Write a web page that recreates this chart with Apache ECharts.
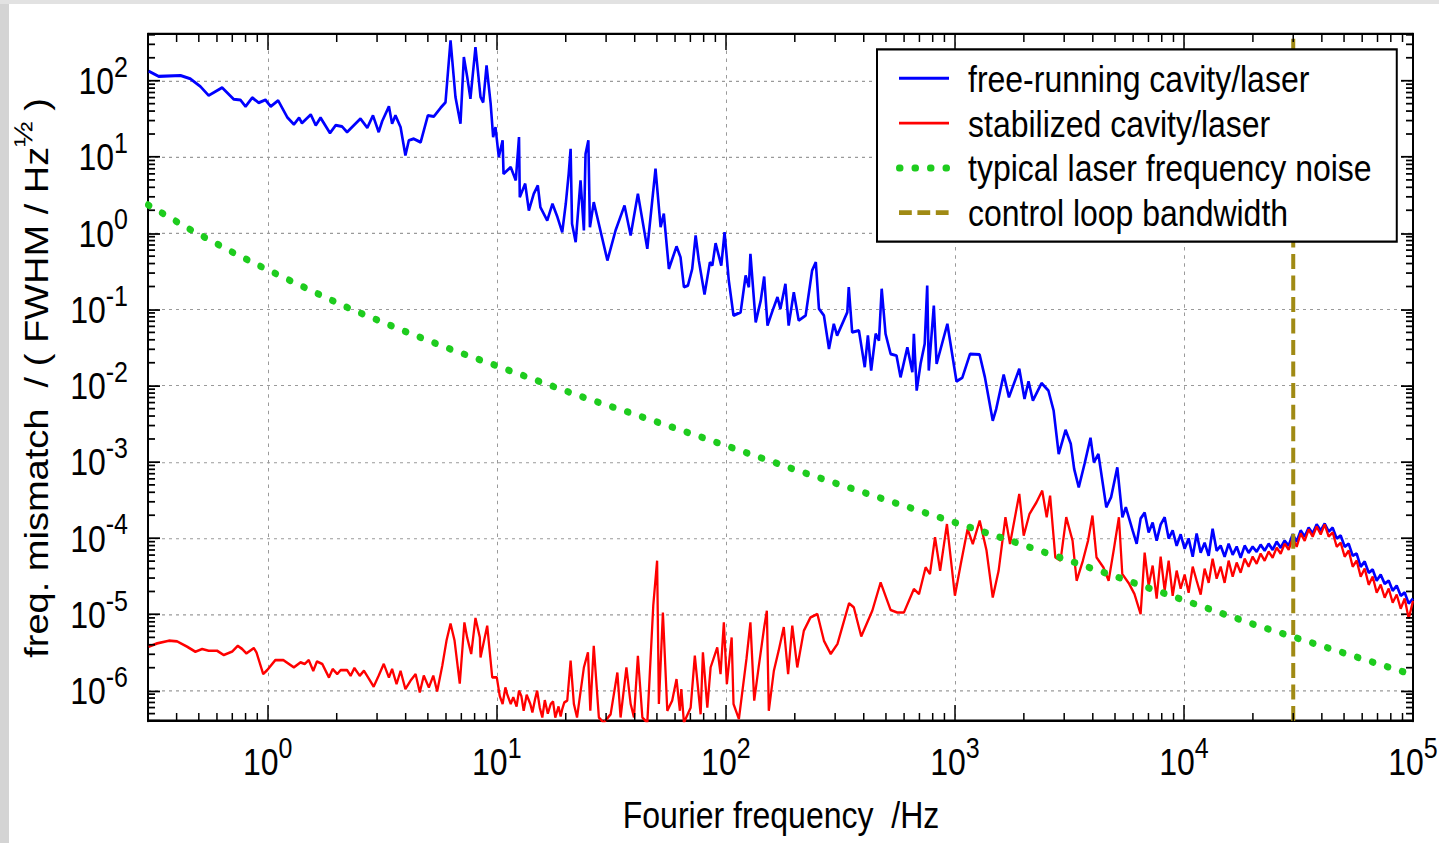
<!DOCTYPE html>
<html>
<head>
<meta charset="utf-8">
<script src="https://cdn.jsdelivr.net/npm/echarts@6/dist/echarts.min.js"></script>
<style>
  html, body { margin: 0; padding: 0; background: #fff; }
  body { width: 1439px; height: 843px; position: relative; }
  #chart { position: absolute; left: 0; top: 0; width: 1439px; transform-origin: 0 0; }
</style>
</head>
<body>
<div id="chart"></div>
<script>
// Spectral density of the cavity/laser frequency mismatch, [Fourier frequency in Hz, FWHM/sqrt(Hz)]
const freeRunning = [
  [0.302,134],[0.334,114],[0.416,117],[0.459,106],[0.508,84],[0.552,64],[0.632,81],[0.711,57],[0.76,56],[0.8,46],
  [0.855,60],[0.913,51.5],[0.977,56],[1.03,46],[1.11,55],[1.22,32.7],[1.3,26.7],[1.37,32.7],[1.41,27.8],[1.54,36],
  [1.62,26],[1.7,32.7],[1.87,20.6],[1.98,26],[2.11,25.1],[2.22,21.2],[2.54,31.8],[2.72,24.2],[2.88,35],[3.05,21.2],
  [3.16,29.5],[3.38,46],[3.49,27.3],[3.61,35],[3.8,24.6],[3.99,10.5],[4.13,16.5],[4.34,17.3],[4.65,15.6],[5.0,35],
  [5.31,34],[5.68,44],[5.97,52],[6.28,338],[6.6,61],[6.94,27.3],[7.18,204],[7.43,111],[7.67,58],[8.07,276],
  [8.49,61],[8.72,52],[9.02,159],[9.4,50],[9.64,18.2],[9.87,24.6],[10.2,9.95],[10.6,16.5],[10.7,6.0],[11.5,7.35],
  [12.1,4.92],[12.5,18.2],[12.6,2.97],[13.3,4.46],[13.8,1.99],[14.5,3.29],[15.1,4.23],[15.5,2.19],[16.6,1.47],[17.5,2.43],
  [18.4,1.62],[19.3,1.03],[20.0,2.43],[20.6,6.03],[21.0,12.8],[21.3,1.33],[22.1,0.762],[23.2,4.92],[24.0,1.09],[24.4,11.0],
  [25.1,16.5],[25.5,1.2],[26.5,2.55],[30.4,0.439],[33.0,1.09],[36.1,2.31],[38.4,0.933],[41.3,3.29],[45.4,0.625],[49.3,7.0],
  [51.9,1.2],[53.6,1.8],[56.4,0.341],[60.9,0.67],[63.4,0.484],[65.6,0.196],[68.3,0.206],[71.3,0.341],[73.8,0.933],[76.2,0.439],
  [80.7,0.157],[85.2,0.417],[87.3,0.377],[90.2,0.739],[95.5,0.377],[98.7,1.03],[103,0.239],[108,0.0832],[116,0.0919],[122,0.279],
  [126,0.196],[128,0.537],[135,0.0679],[142,0.131],[147,0.27],[152,0.0615],[160,0.0968],[168,0.145],[173,0.102],[182,0.217],
  [188,0.0615],[198,0.168],[208,0.0716],[223,0.0832],[238,0.324],[247,0.417],[255,0.102],[268,0.0832],[282,0.0304],[296,0.0647],
  [306,0.0455],[327,0.0716],[339,0.0919],[344,0.196],[356,0.0502],[381,0.0528],[404,0.0175],[417,0.0455],[431,0.0158],[451,0.0479],
  [466,0.0391],[479,0.187],[498,0.0479],[524,0.0261],[556,0.0248],[579,0.0129],[620,0.0319],[652,0.015],[662,0.0479],[681,0.00863],
  [708,0.0193],[738,0.0354],[757,0.206],[769,0.0158],[809,0.112],[832,0.0193],[927,0.0647],[1016,0.0114],[1077,0.0127],[1164,0.0261],
  [1282,0.0256],[1352,0.0129],[1463,0.00348],[1515,0.00496],[1633,0.014],[1722,0.00705],[1910,0.0166],[2013,0.00671],[2096,0.0114],[2191,0.00638],
  [2389,0.0108],[2560,0.00863],[2698,0.00471],[2839,0.00127],[3042,0.00263],[3206,0.00172],[3317,8.09e-4],[3473,4.64e-4],[3681,9.42e-4],[3908,0.00207],
  [4043,9.88e-4],[4231,0.00127],[4581,2.54e-4],[4806,3.43e-4],[5117,8.49e-4],[5387,1.88e-4],[5576,2.54e-4],[5970,1.26e-4],[6216,8.45e-5],[6470,1.81e-4],
  [6736,2.16e-4],[7013,1.19e-4],[7301,1.6e-4],[7600,9.27e-5],[7912,1.51e-4],[8237,1.87e-4],[8575,9.9e-5],[8927,1.26e-4],[9293,7.97e-5],[9674,1.12e-4],
  [10070,7.28e-5],[10480,9.9e-5],[10920,5.72e-5],[11360,1.15e-4],[11830,6.45e-5],[12310,8.7e-5],[12820,5.89e-5],[13340,1.33e-4],[13890,6.86e-5],[14460,7.97e-5],
  [15050,5.72e-5],[15670,8.45e-5],[16320,6.07e-5],[16990,7.73e-5],[17680,5.55e-5],[18410,7.97e-5],[19160,6.45e-5],[19950,7.73e-5],[20770,6.65e-5],[21620,8.2e-5],
  [22510,6.86e-5],[23430,8.45e-5],[24390,7.06e-5],[25390,9.0e-5],[26440,7.5e-5],[27520,9.27e-5],[28650,7.97e-5],[29830,1.12e-4],[31050,9.0e-5],[32330,1.26e-4],
  [33660,1.05e-4],[35030,1.37e-4],[36470,1.15e-4],[37970,1.51e-4],[39530,1.26e-4],[41150,1.55e-4],[42840,1.22e-4],[44600,1.37e-4],[46430,9.9e-5],[48340,1.08e-4],
  [50320,7.73e-5],[52390,8.45e-5],[54540,5.89e-5],[56770,6.26e-5],[59100,4.23e-5],[61530,4.92e-5],[64060,3.53e-5],[66680,3.87e-5],[69420,2.77e-5],[72270,3.32e-5],
  [75230,2.52e-5],[78320,2.77e-5],[81540,2.05e-5],[84880,2.38e-5],[88370,1.76e-5],[91990,1.93e-5],[95770,1.39e-5],[100000,1.61e-5]
];

const stabilized = [
  [0.302,3.77e-6],[0.329,4.17e-6],[0.37,4.52e-6],[0.402,4.43e-6],[0.445,3.77e-6],[0.483,3.24e-6],[0.517,3.52e-6],[0.552,3.34e-6],[0.601,3.34e-6],[0.643,2.93e-6],
  [0.7,3.27e-6],[0.74,3.88e-6],[0.773,3.52e-6],[0.807,3.08e-6],[0.869,3.62e-6],[0.893,3.17e-6],[0.955,1.65e-6],[0.994,1.86e-6],[1.08,2.52e-6],[1.17,2.52e-6],
  [1.3,2.02e-6],[1.39,2.35e-6],[1.45,2.24e-6],[1.51,2.52e-6],[1.58,1.82e-6],[1.64,2.42e-6],[1.73,2.24e-6],[1.85,1.49e-6],[1.92,1.92e-6],[2.01,1.65e-6],
  [2.08,1.86e-6],[2.22,1.86e-6],[2.3,1.57e-6],[2.39,1.98e-6],[2.52,1.57e-6],[2.63,1.82e-6],[2.73,1.52e-6],[2.9,1.13e-6],[3.05,1.57e-6],[3.21,2.24e-6],
  [3.38,1.49e-6],[3.49,1.92e-6],[3.65,1.22e-6],[3.8,1.82e-6],[3.99,1.05e-6],[4.2,1.35e-6],[4.42,1.65e-6],[4.61,9.5e-7],[4.8,1.57e-6],[5.05,1.1e-6],
  [5.28,1.57e-6],[5.49,9.8e-7],[5.78,2.12e-6],[6.03,4.52e-6],[6.28,7.6e-6],[6.54,4.52e-6],[6.89,1.24e-6],[7.22,7.85e-6],[7.42,4.99e-6],[7.73,3.03e-6],
  [8.07,8.97e-6],[8.43,4.99e-6],[8.49,2.73e-6],[9.08,7.1e-6],[9.55,1.49e-6],[10.0,1.49e-6],[10.3,8.5e-7],[10.6,6.7e-7],[10.9,1.1e-6],[11.1,9.0e-7],
  [11.5,6.7e-7],[11.8,8.2e-7],[12.2,6.2e-7],[12.5,1.0e-6],[12.8,8.5e-7],[13.1,5.45e-7],[13.5,8.8e-7],[14.0,6.7e-7],[14.3,5.2e-7],[14.7,7.8e-7],
  [15.0,1.0e-6],[15.4,6.0e-7],[15.8,4.45e-7],[16.2,7.5e-7],[16.7,5.0e-7],[17.2,6.7e-7],[17.6,7.2e-7],[18.0,4.45e-7],[18.6,6.2e-7],[19.0,4.6e-7],
  [19.3,5.7e-7],[19.7,7.0e-7],[20.3,7.4e-7],[21.0,2.47e-6],[21.7,6.7e-7],
  [22.4,4.45e-7],[24.0,2.02e-6],[25.0,3.18e-6],[25.6,5.45e-7],[26.5,3.88e-6],[27.9,4.45e-7],[29.3,3.8e-7],[31.4,4.9e-7],[33.6,1.73e-6],[34.7,4.45e-7],
  [36.8,2.02e-6],[38.4,6.7e-7],[39.7,4.45e-7],[41.3,2.87e-6],[43.2,4.45e-7],[45.4,3.8e-7],[48.2,1.3e-5],[50.1,5.07e-5],[51.0,6.7e-7],[53.1,1.06e-5],
  [55.5,5.45e-7],[58.3,7.4e-7],[60.9,1.42e-6],[63.0,5.45e-7],[63.9,1.05e-6],[65.6,3.8e-7],[70.2,6.0e-7],[73.2,2.87e-6],[77.6,4.9e-7],[79.4,3.18e-6],
  [83.0,6.0e-7],[85.8,2.02e-6],[91.7,3.69e-6],[94.8,1.65e-6],[98.0,7.85e-6],[101,1.22e-6],[106,4.99e-6],[108,6.7e-7],[114,4.24e-7],[123,2.6e-6],
  [128,7.85e-6],[133,7.4e-7],[139,2.02e-6],[147,6.8e-6],[151,1.12e-5],[154,5.45e-7],[162,1.82e-6],[170,3.34e-6],[179,6.8e-6],[187,1.65e-6],
  [195,7.1e-6],[205,2.02e-6],[219,6.1e-6],[234,9.1e-6],[251,1.01e-5],[268,4.52e-6],[287,3.03e-6],[307,4.09e-6],[345,1.4e-5],[362,1.24e-5],
  [390,5.15e-6],[436,1.12e-5],[474,2.63e-5],[524,1.14e-5],[560,1.06e-5],[599,1.06e-5],[662,2.15e-5],[697,1.85e-5],[745,4.14e-5],[778,3.39e-5],
  [819,1.03e-4],[862,3.75e-5],[923,1.53e-4],[1000,1.76e-5],[1061,4.6e-5],[1136,1.32e-4],[1197,8.4e-5],[1283,1.7e-4],[1374,6.9e-5],[1463,1.67e-5],
  [1552,3.75e-5],[1662,1.88e-4],[1740,8.4e-5],[1910,3.8e-4],[1997,1.08e-4],[2117,2.08e-4],[2270,2.95e-4],[2406,4.2e-4],[2516,1.88e-4],[2604,3.61e-4],
  [2744,5.6e-5],[2891,5.07e-5],[3063,1.88e-4],[3263,9.3e-5],[3400,2.77e-5],[3620,5.07e-5],[3814,9.3e-5],[3986,1.98e-4],[4152,5.6e-5],[4449,4.14e-5],
  [4690,2.77e-5],[4932,6.9e-5],[5200,1.88e-4],[5380,3.39e-5],[5768,2.51e-5],[6080,1.85e-5],[6468,1.01e-5],[6736,6.45e-5],[7013,2.38e-5],[7301,4.36e-5],
  [7600,1.61e-5],[7912,5.72e-5],[8237,2.05e-5],[8575,5.07e-5],[8927,1.76e-5],[9293,3.75e-5],[9674,2.18e-5],[10070,3.32e-5],[10480,1.93e-5],[10920,4.23e-5],
  [11360,2.77e-5],[11830,1.82e-5],[12310,3.98e-5],[12820,2.6e-5],[13340,5.38e-5],[13890,2.95e-5],[14460,4.23e-5],[15050,2.6e-5],[15670,5.07e-5],[16320,3.13e-5],
  [16990,4.77e-5],[17680,3.53e-5],[18410,5.38e-5],[19160,4.23e-5],[19950,5.72e-5],[20770,4.63e-5],[21620,6.26e-5],[22510,5.07e-5],[23430,6.65e-5],[24390,5.55e-5],
  [25390,7.5e-5],[26440,6.26e-5],[27520,8.45e-5],[28650,7.06e-5],[29830,9.9e-5],[31050,7.73e-5],[32330,1.15e-4],[33660,9.27e-5],[35030,1.3e-4],[36470,1.05e-4],
  [37970,1.42e-4],[39530,1.12e-4],[41150,1.51e-4],[42840,1.05e-4],[44600,1.19e-4],[46430,7.73e-5],[48340,8.7e-5],[50320,5.72e-5],[52390,6.86e-5],[54540,4.23e-5],
  [56770,5.07e-5],[59100,3.13e-5],[61530,3.98e-5],[64060,2.45e-5],[66680,3.13e-5],[69420,1.93e-5],[72270,2.45e-5],[75230,1.66e-5],[78320,2.18e-5],[81540,1.43e-5],
  [84880,1.82e-5],[88370,1.19e-5],[91990,1.61e-5],[95770,8.8e-6],[100000,1.51e-5]
];

const typicalNoise = [
  [0.3,2.36],[0.458,1.12],[0.714,0.547],[0.96,0.351],[1.75,0.148],[2.33,0.0998],[4.19,0.0483],[6.52,0.0289],[10.2,0.0178],[15.8,0.011],
  [24.6,0.00684],[38.3,0.0044],[100,0.00164],[211,7.5e-4],[611,2.61e-4],[1750,9.27e-5],[4930,3.21e-5],[21000,7.1e-6],[92900,1.73e-6],[100000,1.6e-6]
];

const loopBandwidthHz = 3e4;

const seriesNames = [
  'free-running cavity/laser',
  'stabilized cavity/laser',
  'typical laser frequency noise',
  'control loop bandwidth'
];

const freqRange = [0.3, 1e5];
const ampRange = [4e-7, 410];
const xTickExponents = [0, 1, 2, 3, 4, 5];
const yTickExponents = [-6, -5, -4, -3, -2, -1, 0, 1, 2];

// The figure is drawn with tall, slightly condensed lettering: the chart is laid out
// in a shorter box and stretched vertically by SY. py() converts page rows to chart units.
const SY = 1.17;
const PAGE_W = 1439, PAGE_H = 843;
const py = v => v / SY;

const el = document.getElementById('chart');
el.style.height = py(PAGE_H) + 'px';
el.style.transform = 'scaleY(' + SY + ')';

const font = "'Liberation Sans', Arial, Helvetica, sans-serif";

function powerLabel(exponents) {
  return function (value) {
    const e = Math.round(Math.log10(value));
    if (Math.abs(value / Math.pow(10, e) - 1) > 1e-6 || exponents.indexOf(e) < 0) return '';
    return '{b|10}{s|' + e + '}';
  };
}

// mantissa "10" centred in a 48-unit line, exponent raised to the top of it
const tickRich = {
  b: { fontFamily: font, fontSize: 32, height: 48, lineHeight: 48, verticalAlign: 'bottom', color: '#000' },
  s: { fontFamily: font, fontSize: 25, height: 24, lineHeight: 24, verticalAlign: 'top', color: '#000' }
};

// 2..9 x 10^n positions between the decades
function minorTickValues(lo, hi) {
  const out = [];
  for (let d = Math.floor(Math.log10(lo)); d <= Math.ceil(Math.log10(hi)); d++) {
    for (let m = 2; m <= 9; m++) {
      const v = m * Math.pow(10, d);
      if (v > lo && v < hi) out.push(v);
    }
  }
  return out;
}

const tickStroke = { stroke: '#000', lineWidth: 1.5 };
const xMinorLen = py(8), yMinorLen = 7;

const minorX = {
  type: 'custom', silent: true, clip: false, z: 5,
  data: minorTickValues(freqRange[0], freqRange[1]).map(v => [v, ampRange[0]]),
  renderItem: function (params, api) {
    const v = api.value(0);
    const pb = api.coord([v, ampRange[0]]);
    const pt = api.coord([v, ampRange[1]]);
    return { type: 'group', children: [
      { type: 'line', shape: { x1: pb[0], y1: pb[1], x2: pb[0], y2: pb[1] - xMinorLen }, style: tickStroke },
      { type: 'line', shape: { x1: pt[0], y1: pt[1], x2: pt[0], y2: pt[1] + xMinorLen }, style: tickStroke }
    ] };
  }
};

const minorY = {
  type: 'custom', silent: true, clip: false, z: 5,
  data: minorTickValues(ampRange[0], ampRange[1]).map(v => [freqRange[0], v]),
  renderItem: function (params, api) {
    const v = api.value(1);
    const pl = api.coord([freqRange[0], v]);
    const pr = api.coord([freqRange[1], v]);
    return { type: 'group', children: [
      { type: 'line', shape: { x1: pl[0], y1: pl[1], x2: pl[0] + yMinorLen, y2: pl[1] }, style: tickStroke },
      { type: 'line', shape: { x1: pr[0], y1: pr[1], x2: pr[0] - yMinorLen, y2: pr[1] }, style: tickStroke }
    ] };
  }
};

const boxLine = { show: true, onZero: false, lineStyle: { color: '#000', width: 2 } };
const gridDash = { show: true, lineStyle: { color: '#9a9a9a', width: 1, type: [3, 4] } };
const xMajorTick = { show: true, inside: true, length: py(16), lineStyle: { color: '#000', width: 1.5 } };
const yMajorTick = { show: true, inside: true, length: 12, lineStyle: { color: '#000', width: 1.5 } };

const chart = echarts.init(el, null, { renderer: 'svg', width: PAGE_W, height: py(PAGE_H) });

chart.setOption({
  animation: false,
  backgroundColor: '#fff',
  grid: { left: 148, right: PAGE_W - 1413, top: py(34), bottom: py(PAGE_H - 721), outerBoundsMode: 'none', containLabel: false },
  xAxis: [
    {
      type: 'log', logBase: 10, min: freqRange[0], max: freqRange[1], splitNumber: 6, position: 'bottom',
      axisLine: boxLine, axisTick: xMajorTick, splitLine: gridDash,
      axisLabel: { show: true, margin: 10.5, formatter: powerLabel(xTickExponents), rich: tickRich, showMaxLabel: true, hideOverlap: false }
    },
    {
      type: 'log', logBase: 10, min: freqRange[0], max: freqRange[1], splitNumber: 6, position: 'top',
      axisLine: boxLine, axisTick: xMajorTick, splitLine: { show: false }, axisLabel: { show: false }
    }
  ],
  yAxis: [
    {
      type: 'log', logBase: 10, min: ampRange[0], max: ampRange[1], splitNumber: 10, position: 'left',
      axisLine: boxLine, axisTick: yMajorTick, splitLine: gridDash,
      axisLabel: { show: true, margin: 20, formatter: powerLabel(yTickExponents), rich: tickRich, hideOverlap: false }
    },
    {
      type: 'log', logBase: 10, min: ampRange[0], max: ampRange[1], splitNumber: 10, position: 'right',
      axisLine: boxLine, axisTick: yMajorTick, splitLine: { show: false }, axisLabel: { show: false }
    }
  ],
  legend: {
    data: seriesNames,
    orient: 'vertical',
    left: 877, top: py(49.3),
    padding: [py(6.6), 25, py(6.6), 19],
    itemGap: 0,
    itemWidth: 50, itemHeight: 14,
    backgroundColor: '#fff',
    borderColor: '#000', borderWidth: 2, borderRadius: 0,
    selectedMode: false,
    itemStyle: { opacity: 0 },
    lineStyle: { width: 'inherit', type: 'inherit', cap: 'inherit', color: 'inherit' },
    textStyle: { fontFamily: font, fontSize: 32, lineHeight: py(44.8), color: '#000', padding: [0, 0, 0, 14] }
  },
  graphic: [
    { type: 'rect', left: 0, top: 0, z: -10, shape: { width: 9, height: py(PAGE_H) }, style: { fill: '#d4d4d4' } },
    { type: 'rect', left: 0, top: 0, z: -10, shape: { width: PAGE_W, height: py(4) }, style: { fill: '#e2e2e2' } },
    {
      type: 'text', x: 781, y: py(815),
      style: { text: 'Fourier frequency  /Hz', font: '32px ' + font, fill: '#000', align: 'center', verticalAlign: 'middle' }
    },
    {
      type: 'text', x: 37, y: py(378), rotation: Math.PI / 2,
      style: {
        text: '{t|freq. mismatch  / ( FWHM / Hz}{s|\u00BD}{t| )}',
        align: 'center', verticalAlign: 'middle',
        rich: {
          t: { fontFamily: font, fontSize: 32.5, height: 54, lineHeight: 54, verticalAlign: 'bottom', fill: '#000' },
          s: { fontFamily: font, fontSize: 26, height: 26, lineHeight: 26, verticalAlign: 'top', fill: '#000' }
        }
      }
    }
  ],
  series: [
    {
      name: seriesNames[0], type: 'line', data: freeRunning, symbol: 'none', showSymbol: false, clip: true,
      lineStyle: { color: '#0000ff', width: 2.6 }, itemStyle: { color: '#0000ff' }, z: 2
    },
    {
      name: seriesNames[1], type: 'line', data: stabilized, symbol: 'none', showSymbol: false, clip: true,
      lineStyle: { color: '#ff0000', width: 2.3 }, itemStyle: { color: '#ff0000' }, z: 2
    },
    {
      name: seriesNames[2], type: 'line', data: typicalNoise, symbol: 'none', showSymbol: false, clip: true,
      lineStyle: { color: '#1ecc1e', width: 6, type: [1.5, 14], cap: 'round' }, itemStyle: { color: '#1ecc1e' }, z: 3
    },
    {
      name: seriesNames[3], type: 'line', data: [[loopBandwidthHz, ampRange[0]], [loopBandwidthHz, ampRange[1]]],
      symbol: 'none', showSymbol: false, clip: true,
      lineStyle: { color: '#a08a14', width: 4, type: [12.8, 5.6] }, itemStyle: { color: '#a08a14' }, z: 3
    },
    minorX,
    minorY
  ]
});
</script>
</body>
</html>
